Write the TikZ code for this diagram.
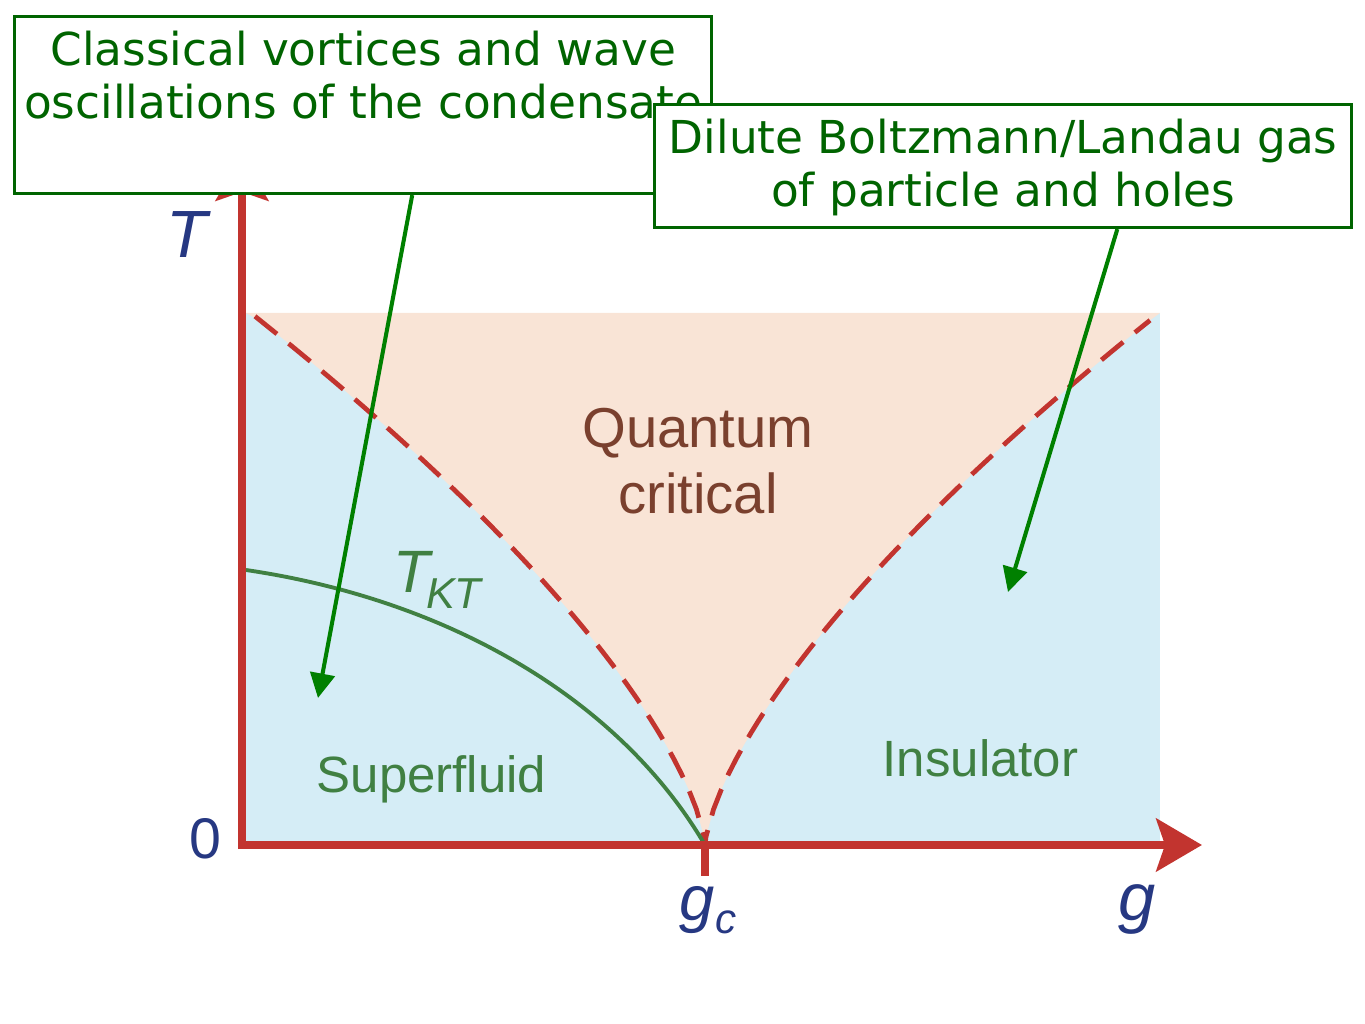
\documentclass[tikz,border=0pt]{standalone}
\usepackage{fontspec}
\setmainfont{Liberation Sans}
\newfontfamily\notefont{DejaVu Sans}
\usetikzlibrary{arrows.meta,positioning,calc}

\definecolor{axisred}{RGB}{194,52,47}
\definecolor{sfblue}{RGB}{213,237,246}
\definecolor{qcpeach}{RGB}{249,228,214}
\definecolor{labelblue}{RGB}{38,56,130}
\definecolor{qcbrown}{RGB}{122,64,46}
\definecolor{phasegreen}{RGB}{64,128,66}
\definecolor{notegreen}{RGB}{0,100,0}
\definecolor{arrowgreen}{RGB}{0,128,0}

\tikzset{
  axisline/.style={axisred, line width=2.3pt},
  axishead/.style={-{Stealth[length=13pt,width=15pt,inset=2.5pt]}},
  crossover/.style={axisred, line width=1.35pt, dash pattern=on 8pt off 4.3pt},
  notebox/.style={draw=notegreen, line width=0.85pt, fill=white, anchor=north west},
  notetext/.style={text=notegreen, align=center, inner sep=0pt,
    font=\notefont\fontsize{12.9}{15.1}\selectfont},
  notearrow/.style={arrowgreen, line width=1.15pt, -{Triangle[length=7pt,width=7pt]}},
  phaselabel/.style={text=phasegreen, inner sep=0pt, font=\fontsize{14.5}{18}\selectfont},
  axislabel/.style={text=labelblue, inner sep=0pt, font=\fontsize{19}{19}\selectfont\itshape}
}

\begin{document}
\begin{tikzpicture}[x=0.01cm, y=-0.01cm,
    declare function={crit(\dg)=8.3*\dg^0.68;}]
    \useasboundingbox (0,0) rectangle (1365,1024);

    % phase regions
    \fill[sfblue] (246,313) rectangle (1160,843);
    \fill[qcpeach] (246,313) -- (255,318)
        -- plot[domain=450:1,samples=60] ({705-\x},{845-crit(\x)}) -- (705,845)
        -- plot[domain=1:445,samples=60] ({705+\x},{845-crit(\x)}) -- (1160,313) -- cycle;

    % crossover lines
    \draw[crossover] plot[domain=450:1,samples=60] ({705-\x},{845-crit(\x)}) -- (705,845)
        -- plot[domain=1:445,samples=60] ({705+\x},{845-crit(\x)});

    % Kosterlitz-Thouless line
    \coordinate (gcpoint) at (705,845);
    \draw[phasegreen, line width=1.1pt] (246,570) .. controls (450,600) and (620,700) .. (gcpoint);

    % axes
    \draw[axisline, axishead] (242,849) -- (242,155);
    \draw[axisline, axishead] (238,845) -- (1202,845);
    \draw[axisline] (gcpoint) -- ++(0,31);

    \node[axislabel, anchor=base] (tlabel) at (187,258) {T};
    \node[text=labelblue, inner sep=0pt, font=\fontsize{16.3}{16}\selectfont, anchor=base] (zerolabel) at (205,858) {0};
    \node[axislabel, font=\fontsize{18}{18}\selectfont\itshape, anchor=base] (gclabel) at (708,920)
        {g\raisebox{-0.13cm}{\fontsize{12}{12}\selectfont c}};
    \node[axislabel, anchor=base] (glabel) at (1137,921) {g};

    % region labels
    \node[phaselabel, text=qcbrown, align=center, font=\fontsize{16}{18.8}\selectfont] (qclabel) at (698,461) {Quantum\\critical};
    \node[phaselabel, anchor=base west] (sflabel) at (316,792) {Superfluid};
    \node[phaselabel, anchor=base west] (inslabel) at (882,777) {Insulator};
    \node[phaselabel, font=\fontsize{17}{17}\selectfont\itshape, anchor=base west] (tktlabel) at (393,593)
        {T\kern-1.2pt\raisebox{-0.15cm}{\fontsize{12.3}{12}\selectfont KT}};

    % notes
    \node[notebox, minimum width=6.97cm, minimum height=1.77cm] (vortexbox) at (13,15) {};
    \node[notetext, below=0.155cm of vortexbox.north] (vortextext)
        {Classical vortices and wave\\oscillations of the condensate};
    \node[notebox, minimum width=6.97cm, minimum height=1.23cm] (gasbox) at (653,103) {};
    \node[notetext, below=0.155cm of gasbox.north] (gastext)
        {Dilute Boltzmann/Landau gas\\of particle and holes};

    \coordinate (sfpoint) at (318,698);
    \coordinate (inspoint) at (1008,592);
    \draw[notearrow] ($(vortexbox.south west)!0.57!(vortexbox.south east)$) -- (sfpoint);
    \draw[notearrow] ($(gasbox.south west)!0.663!(gasbox.south east)$) -- (inspoint);
\end{tikzpicture}
\end{document}
